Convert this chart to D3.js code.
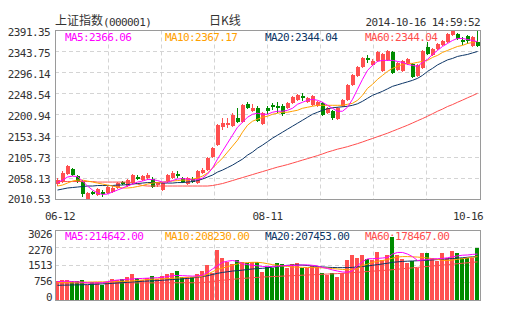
<!DOCTYPE html>
<html><head><meta charset="utf-8">
<script src="https://cdn.jsdelivr.net/npm/d3@7"></script>
<style>
html,body{margin:0;padding:0;background:#fff;}
svg{display:block;}
text{font-family:"DejaVu Sans Mono",monospace;font-size:11px;letter-spacing:-0.6px;}
text.cjk{font-family:"Noto Sans CJK SC",sans-serif;font-size:12px;letter-spacing:0;}
</style></head><body>
<svg id="c" width="505" height="330"></svg>
<script>
const dates = ["06-12","06-13","06-16","06-17","06-18","06-19","06-20","06-23","06-24","06-25","06-26","06-27","06-30",
"07-01","07-02","07-03","07-04","07-07","07-08","07-09","07-10","07-11","07-14","07-15","07-16","07-17","07-18","07-21","07-22","07-23","07-24","07-25","07-28","07-29","07-30","07-31",
"08-01","08-04","08-05","08-06","08-07","08-08","08-11","08-12","08-13","08-14","08-15","08-18","08-19","08-20","08-21","08-22","08-25","08-26","08-27","08-28","08-29",
"09-01","09-02","09-03","09-04","09-05","09-09","09-10","09-11","09-12","09-15","09-16","09-17","09-18","09-19","09-22","09-23","09-24","09-25","09-26","09-29","09-30",
"10-08","10-09","10-10","10-13","10-14","10-15","10-16"];
const open = [2045.3,2049.8,2067.8,2079.0,2063.3,2049.8,2012.5,2027.4,2020.7,2027.4,2025.2,2028.5,2036.4,2049.8,2040.9,2047.6,2061.1,2054.3,2058.8,2056.6,2043.1,2031.9,2052.1,2058.8,2067.8,2058.8,2045.3,2056.6,2047.6,2070.1,2076.8,2106.0,2133.0,2173.4,2177.9,2175.7,2193.6,2184.6,2225.1,2209.4,2216.1,2180.2,2216.1,2222.8,2220.6,2220.6,2216.1,2227.3,2234.1,2243.1,2229.6,2222.8,2220.6,2227.3,2204.9,2209.4,2191.4,2220.6,2234.1,2267.8,2288.0,2308.2,2328.5,2312.7,2321.7,2299.2,2324.0,2341.9,2301.5,2299.2,2315.0,2315.0,2288.0,2306.0,2353.2,2335.2,2348.7,2357.7,2364.4,2380.1,2382.4,2368.9,2377.9,2355.4,2364.4];
const high = [2058.8,2074.6,2088.0,2081.3,2065.6,2054.3,2027.4,2029.6,2036.4,2031.9,2040.9,2040.9,2049.8,2052.1,2056.6,2067.8,2065.6,2065.6,2070.1,2061.1,2049.8,2049.8,2067.8,2074.6,2074.6,2061.1,2061.1,2061.1,2076.8,2081.3,2106.0,2128.5,2180.2,2193.6,2193.6,2204.9,2216.1,2225.1,2229.6,2225.1,2220.6,2207.1,2220.6,2227.3,2229.6,2225.1,2229.6,2243.1,2247.6,2249.8,2240.8,2245.3,2231.8,2229.6,2218.4,2211.6,2218.4,2236.3,2270.0,2292.5,2310.5,2330.7,2335.2,2326.2,2344.2,2339.7,2346.4,2344.2,2319.5,2324.0,2328.5,2317.2,2315.0,2346.4,2364.4,2350.9,2362.1,2368.9,2384.6,2391.35,2384.6,2375.6,2380.1,2377.9,2389.1];
const low = [2040.9,2047.6,2065.6,2063.3,2047.6,2016.2,2010.53,2020.7,2018.4,2016.2,2022.9,2025.2,2034.1,2043.1,2038.6,2045.3,2054.3,2052.1,2054.3,2036.4,2038.6,2029.6,2047.6,2056.6,2058.8,2047.6,2043.1,2047.6,2045.3,2067.8,2074.6,2103.8,2130.7,2166.7,2171.2,2173.4,2182.4,2182.4,2213.9,2207.1,2184.6,2177.9,2202.6,2211.6,2204.9,2198.1,2213.9,2225.1,2231.8,2231.8,2227.3,2220.6,2218.4,2198.1,2202.6,2189.1,2189.1,2218.4,2231.8,2265.5,2285.7,2306.0,2317.2,2310.5,2319.5,2297.0,2321.7,2292.5,2299.2,2297.0,2312.7,2283.5,2285.7,2303.7,2335.2,2332.9,2346.4,2355.4,2362.1,2377.9,2368.9,2357.7,2359.9,2353.2,2353.2];
const close = [2054.3,2070.1,2085.8,2065.6,2049.8,2022.9,2025.2,2022.9,2034.1,2024.0,2038.6,2036.4,2047.6,2046.5,2054.3,2065.6,2056.6,2063.3,2065.6,2038.6,2047.6,2047.6,2065.6,2070.1,2063.3,2049.8,2058.8,2049.8,2074.6,2076.8,2103.8,2126.2,2177.9,2182.4,2182.4,2200.4,2184.6,2222.8,2216.1,2216.1,2186.9,2204.9,2209.4,2218.4,2216.1,2202.6,2227.3,2240.8,2245.3,2238.6,2238.6,2243.1,2229.6,2200.4,2216.1,2193.6,2216.1,2234.1,2267.8,2290.2,2308.2,2328.5,2324.0,2321.7,2341.9,2337.4,2344.2,2294.7,2317.2,2321.7,2326.2,2285.7,2312.7,2344.2,2337.4,2348.7,2359.9,2366.6,2382.4,2389.1,2371.1,2364.4,2366.6,2375.6,2355.4];
const volume = [836,879,850,807,836,879,663,764,778,634,778,922,879,922,980,1124,951,879,951,1052,922,1052,1124,1167,1268,980,1023,980,1124,1268,1528,1196,2176,1845,1672,1556,1744,1643,1600,1672,1650,1230,1457,1412,1600,1556,1383,1556,1614,1412,1412,1499,1457,1167,1095,1167,980,1167,1744,1960,1845,1960,1787,1744,2075,1744,1960,2752,1960,1787,1600,1700,1412,2032,2032,1816,1700,2032,1816,2133,2032,1845,1816,1816,2248];
const ma5 = [2048.7,2054.3,2061.1,2063.3,2062.2,2052.1,2040.9,2031.9,2025.2,2021.8,2022.9,2027.4,2031.9,2036.4,2040.9,2045.3,2049.8,2052.1,2055.5,2055.5,2053.2,2049.8,2049.8,2053.2,2056.6,2057.7,2056.6,2054.3,2055.5,2058.8,2067.8,2081.3,2101.5,2119.5,2137.5,2155.4,2173.4,2184.6,2195.9,2202.6,2204.9,2202.6,2202.6,2207.1,2209.4,2209.4,2211.6,2216.1,2225.1,2229.6,2234.1,2236.3,2234.1,2229.6,2222.8,2216.1,2209.4,2209.4,2218.4,2236.3,2258.8,2281.3,2301.5,2312.7,2321.7,2324.0,2324.0,2324.0,2321.7,2319.5,2315.0,2312.7,2310.5,2319.5,2326.2,2337.4,2346.4,2355.4,2362.1,2368.9,2373.4,2373.4,2371.1,2368.9,2366.06];
const ma10 = [2040.9,2043.1,2047.6,2052.1,2054.3,2054.3,2052.1,2049.8,2047.6,2045.3,2043.1,2040.9,2038.6,2036.4,2036.4,2037.5,2039.8,2042.0,2045.3,2047.6,2048.7,2049.8,2050.9,2052.1,2053.2,2054.3,2054.3,2056.6,2058.8,2063.3,2070.1,2081.3,2092.5,2103.8,2117.3,2130.7,2144.2,2162.2,2177.9,2186.9,2191.4,2195.9,2198.1,2202.6,2204.9,2207.1,2207.1,2209.4,2211.6,2216.1,2218.4,2220.6,2222.8,2222.8,2222.8,2222.8,2222.8,2222.8,2225.1,2227.3,2234.1,2245.3,2261.0,2270.0,2281.3,2290.2,2299.2,2306.0,2310.5,2315.0,2317.2,2317.2,2319.5,2321.7,2324.0,2330.7,2335.2,2341.9,2346.4,2350.9,2355.4,2357.7,2362.1,2364.4,2367.17];
const ma20 = [2031.9,2034.1,2036.4,2037.5,2038.6,2039.8,2040.9,2040.9,2042.0,2042.0,2042.0,2042.0,2043.1,2043.1,2044.2,2045.3,2046.5,2047.6,2048.7,2048.7,2048.7,2047.6,2047.6,2047.6,2048.7,2048.7,2049.8,2050.9,2053.2,2056.6,2061.1,2065.6,2072.3,2076.8,2082.4,2088.0,2094.8,2101.5,2110.5,2117.3,2126.2,2133.0,2140.9,2148.7,2155.4,2162.2,2169.0,2175.7,2182.4,2189.1,2195.9,2202.6,2207.1,2211.6,2215.0,2217.2,2218.4,2219.5,2220.6,2222.8,2226.2,2231.8,2238.6,2245.3,2249.8,2254.3,2259.9,2265.5,2268.9,2272.3,2275.6,2279.0,2283.5,2290.2,2299.2,2306.0,2313.8,2319.5,2325.1,2328.4,2332.9,2335.2,2337.4,2340.8,2344.04];
const ma60 = [2051.0,2051.0,2051.0,2051.0,2051.0,2051.0,2051.0,2051.0,2049.8,2049.8,2049.8,2049.8,2049.8,2049.8,2049.8,2048.7,2045.3,2042.0,2040.9,2040.9,2040.9,2040.9,2040.9,2040.9,2040.9,2040.9,2040.9,2040.9,2040.9,2040.9,2040.9,2042.0,2044.2,2046.5,2049.8,2053.2,2056.6,2059.9,2063.3,2066.7,2070.1,2073.4,2076.8,2080.2,2083.5,2086.3,2089.2,2092.5,2095.9,2099.3,2102.6,2106.0,2109.4,2113.2,2117.3,2120.6,2124.0,2126.7,2129.6,2133.0,2136.4,2140.2,2144.2,2148.0,2152.1,2155.9,2159.9,2164.4,2168.9,2173.4,2177.9,2182.9,2188.0,2192.9,2198.1,2203.7,2209.4,2214.3,2220.0,2224.4,2229.6,2234.5,2239.7,2244.6,2249.8];
const volMa5 = [800,810,820,800,790,770,750,740,745,750,800,840,870,880,900,920,930,940,950,960,970,990,1020,1060,1070,1060,1050,1040,1050,1080,1200,1350,1500,1640,1690,1720,1680,1580,1540,1510,1490,1460,1460,1460,1470,1490,1500,1500,1510,1525,1530,1510,1480,1420,1370,1310,1260,1220,1210,1270,1500,1670,1790,1800,1810,1830,1850,2000,2070,2070,2000,1890,1720,1740,1760,1790,1800,1810,1840,1880,1920,1950,1960,1985,2000];
const volMa10 = [760,765,770,775,780,780,780,785,790,790,795,800,805,810,815,830,850,870,890,905,915,925,935,945,960,975,990,1000,1010,1040,1120,1230,1330,1390,1450,1520,1570,1610,1630,1640,1640,1620,1580,1540,1510,1480,1460,1440,1430,1420,1415,1410,1405,1400,1390,1370,1350,1330,1320,1320,1360,1500,1560,1640,1680,1720,1760,1820,1870,1890,1890,1880,1870,1850,1830,1800,1770,1730,1720,1740,1770,1800,1830,1860,1890];
const volMa20 = [640,645,650,655,660,665,670,680,690,700,710,725,740,755,770,785,800,815,825,835,845,860,875,890,905,920,940,960,990,1020,1060,1110,1160,1200,1230,1260,1280,1300,1330,1350,1370,1380,1400,1430,1460,1490,1510,1520,1525,1520,1500,1480,1460,1440,1425,1415,1410,1410,1410,1420,1440,1460,1480,1510,1540,1570,1600,1640,1660,1680,1690,1700,1710,1720,1730,1745,1760,1775,1790,1805,1820,1840,1860,1880,1890];
const volMa60 = [740,740,740,740,740,740,740,740,740,740,740,745,745,745,745,745,745,745,745,745,745,750,750,750,750,750,750,750,750,760,780,800,830,860,880,900,920,940,955,970,985,1000,1010,1020,1030,1040,1050,1060,1070,1080,1090,1100,1110,1120,1130,1140,1150,1160,1175,1190,1205,1220,1240,1255,1270,1285,1300,1320,1340,1360,1380,1400,1420,1440,1460,1480,1500,1520,1540,1560,1580,1600,1620,1640,1660];
const priceTicks = [2010.53,2058.13,2105.73,2153.34,2200.94,2248.54,2296.14,2343.75,2391.35];
const volTicks = [0,756,1513,2270,3026];
const xLabels = ["06-12","08-11","10-16"];
const maNames = ["MA5","MA10","MA20","MA60"];
const priceMaLegend = [2366.06,2367.17,2344.04,2344.04];
const volMaLegend = [214642.00,208230.00,207453.00,178467.00];
const titleName = "上证指数", titleCode = "(000001)", periodName = "日K线", stamp = "2014-10-16 14:59:52";

const COL = {up:"#ff5050", down:"#008c00", grid:"#d4d4d4", border:"#9a9a9a", text:"#333",
  ma:["#ff00ff","#ffa000","#0c3566","#ff4d4d"]};

const svg = d3.select("#c");
svg.append("rect").attr("width",505).attr("height",330).attr("fill","#fff");

const L=55, R=480;
const x = d3.scaleBand().domain(dates).range([L,R]).padding(0);
const bw = x.bandwidth();
const yP = d3.scaleLinear().domain([priceTicks[0], priceTicks[priceTicks.length-1]]).range([199.5,30.5]);
const yPLab = d3.scaleLinear().domain(yP.domain()).range([199,31.7]);
const yV = d3.scaleLinear().domain([0, volTicks[volTicks.length-1]]).range([300,230.5]);
const yVLab = d3.scaleLinear().domain(yV.domain()).range([296.5,233.5]);

// header
svg.append("text").attr("class","cjk").attr("x",55).attr("y",24.5).attr("fill",COL.text).text(titleName);
svg.append("text").attr("x",103).attr("y",25.5).attr("fill",COL.text).text(titleCode);
svg.append("text").attr("class","cjk").attr("x",225).attr("y",24.5).attr("text-anchor","middle").attr("fill",COL.text).text(periodName);
svg.append("text").attr("x",480).attr("y",25.5).attr("text-anchor","end").attr("fill",COL.text).text(stamp);

function grid(g, top, bottom, ys){
  const xs = d3.range(1,8).map(k => Math.floor(L + k*(R-L)/8)+0.5);
  g.selectAll(".v").data(xs).join("line").attr("x1",d=>d).attr("x2",d=>d).attr("y1",top).attr("y2",bottom)
    .attr("stroke",COL.grid).attr("stroke-dasharray","4,3");
  g.selectAll(".h").data(ys).join("line").attr("x1",L).attr("x2",R).attr("y1",d=>d).attr("y2",d=>d)
    .attr("stroke",COL.grid).attr("stroke-dasharray","4,3");
}
const gP = svg.append("g");
grid(gP, 30.5, 199.5, priceTicks.slice(1,-1).map(t=>Math.floor(yP(t))+0.5));
const gV = svg.append("g");
grid(gV, 230.5, 300.5, volTicks.slice(1,-1).map(t=>Math.floor(yV(t))+0.5));

// legends
function legend(y, vals){
  maNames.forEach((n,i)=>{
    svg.append("text").attr("x",65+100*i).attr("y",y).attr("fill",COL.ma[i]).text(n+":"+vals[i].toFixed(2));
  });
}
legend(40.7, priceMaLegend);
legend(239.7, volMaLegend);

// axes
const axP = svg.append("g").attr("transform","translate(55,0)").style("color",COL.text)
  .call(d3.axisLeft(yPLab).tickValues(priceTicks).tickSize(0).tickPadding(5).tickFormat(d3.format(".2f")));
axP.select(".domain").remove();
axP.selectAll("text").attr("dy","0.36em");
const axV = svg.append("g").attr("transform","translate(55,0)").style("color",COL.text)
  .call(d3.axisLeft(yVLab).tickValues(volTicks).tickSize(0).tickPadding(3).tickFormat(d3.format("d")));
axV.select(".domain").remove();
axV.selectAll("text").attr("dy","0.36em");

xLabels.forEach(lbl=>{
  const w = lbl.length*6;
  let cx = x(lbl) + bw/2;
  cx = Math.max(45 + w/2, Math.min(483 - w/2, cx));
  svg.append("text").attr("x",cx).attr("y",219.5).attr("text-anchor","middle").attr("fill",COL.text).text(lbl);
});

// candles
const idx = d3.range(dates.length);
const isUp = i => close[i] >= open[i];
const gc = svg.append("g").attr("shape-rendering","crispEdges");
gc.selectAll(".wick").data(idx).join("rect")
  .attr("x", i=>x(dates[i])+2).attr("width",1)
  .attr("y", i=>Math.round(yP(high[i])))
  .attr("height", i=>Math.max(1, Math.round(yP(low[i]))-Math.round(yP(high[i]))))
  .attr("fill", i=>isUp(i)?COL.up:COL.down);
gc.selectAll(".body").data(idx).join("rect")
  .attr("x", i=>x(dates[i])+1).attr("width",bw-1)
  .attr("y", i=>Math.round(yP(Math.max(open[i],close[i]))))
  .attr("height", i=>Math.max(1, Math.round(yP(Math.min(open[i],close[i])))-Math.round(yP(Math.max(open[i],close[i])))))
  .attr("fill", i=>isUp(i)?COL.up:COL.down);

// volume bars
const gb = svg.append("g").attr("shape-rendering","crispEdges");
gb.selectAll("rect").data(idx).join("rect")
  .attr("x", i=>x(dates[i])).attr("width",bw-1)
  .attr("y", i=>Math.round(yV(volume[i])))
  .attr("height", i=>300-Math.round(yV(volume[i])))
  .attr("fill", i=>isUp(i)?COL.up:COL.down);

// MA lines
function maLine(arr, y, color){
  const line = d3.line().x((d,i)=>x(dates[i])+bw/2).y(d=>y(d));
  svg.append("path").datum(arr).attr("d",line).attr("fill","none").attr("stroke",color).attr("stroke-width",1);
}
[ma60, ma20, ma10, ma5].forEach((a,k)=>maLine(a, yP, COL.ma[3-k]));
[volMa60, volMa20, volMa10, volMa5].forEach((a,k)=>maLine(a, yV, COL.ma[3-k]));

// borders
svg.append("rect").attr("x",55.5).attr("y",30.5).attr("width",425).attr("height",169).attr("fill","none").attr("stroke",COL.border);
svg.append("rect").attr("x",55.5).attr("y",230.5).attr("width",425).attr("height",70).attr("fill","none").attr("stroke",COL.border);
</script>
</body></html>
